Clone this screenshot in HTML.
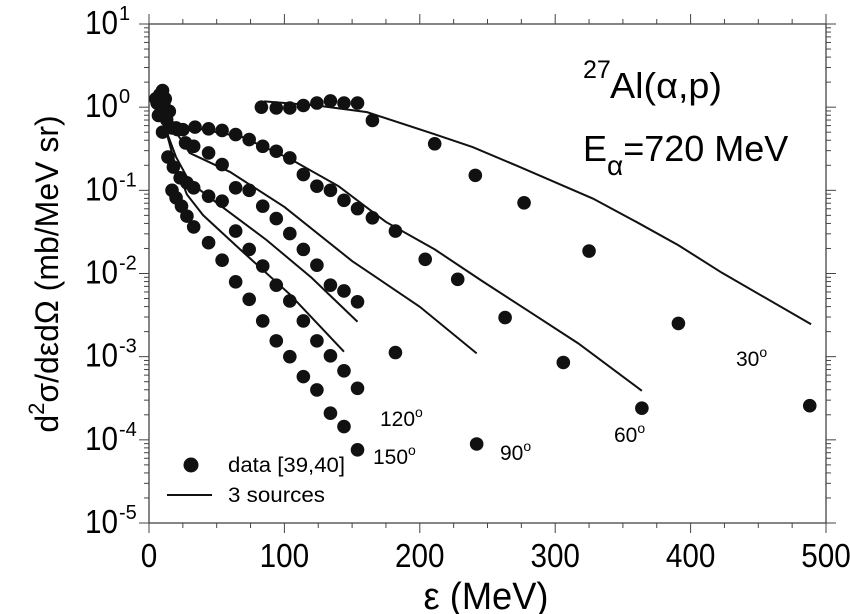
<!DOCTYPE html>
<html><head><meta charset="utf-8">
<style>
html,body{margin:0;padding:0;background:#fff;}
svg{display:block;font-family:"Liberation Sans",Arial,sans-serif;}
</style></head>
<body>
<svg id="chart" width="850" height="614" viewBox="0 0 850 614" xmlns="http://www.w3.org/2000/svg">
<g id="axes"></g>
<g id="marks"></g>
<g id="labels">
  <text x="583" y="78" font-size="25">27</text>
  <text x="610" y="98" font-size="36" textLength="112" lengthAdjust="spacingAndGlyphs">Al(α,p)</text>
  <text x="583" y="161" font-size="36">E<tspan font-size="28" dy="14">α</tspan><tspan dy="-14">=720 MeV</tspan></text>
  <text x="380" y="426" font-size="21">120<tspan font-size="14" dy="-9">o</tspan></text>
  <text x="373" y="464" font-size="21">150<tspan font-size="14" dy="-9">o</tspan></text>
  <text x="500" y="460" font-size="21">90<tspan font-size="14" dy="-9">o</tspan></text>
  <text x="614" y="442" font-size="21">60<tspan font-size="14" dy="-9">o</tspan></text>
  <text x="736" y="366" font-size="21">30<tspan font-size="14" dy="-9">o</tspan></text>
  <circle cx="191" cy="465" r="7.5" fill="#111"/>
  <text x="228" y="472" font-size="21" textLength="117" lengthAdjust="spacingAndGlyphs">data [39,40]</text>
  <line x1="167" y1="495" x2="212" y2="495" stroke="#111" stroke-width="2"/>
  <text x="228" y="502" font-size="21" textLength="97" lengthAdjust="spacingAndGlyphs">3 sources</text>
  <text x="486" y="609" font-size="38" text-anchor="middle" textLength="125" lengthAdjust="spacingAndGlyphs">ε (MeV)</text>
  <text transform="translate(58,274) rotate(-90)" font-size="32" text-anchor="middle">d<tspan font-size="22" dy="-14">2</tspan><tspan dy="14">σ/dεdΩ (mb/MeV sr)</tspan></text>
</g>
<script>
const xTicks=[0,100,200,300,400,500];
const yExps=[1,0,-1,-2,-3,-4,-5];
const d30x=[83,94,104,114,124,134,144,154,165,211,241,277,325,391,488];
const d30y=[0,-0.01,-0.01,0.02,0.05,0.075,0.05,0.05,-0.16,-0.44,-0.82,-1.15,-1.73,-2.60,-3.59];
const d60x=[8,10,12,15,20,25,34,44,54,64,74,84,94,104,114,124,134,144,154,165,182,204,228,263,306,364];
const d60y=[0.15,0.2,0.1,-0.05,-0.25,-0.27,-0.24,-0.26,-0.28,-0.33,-0.39,-0.47,-0.53,-0.61,-0.81,-0.95,-1.0,-1.12,-1.22,-1.33,-1.49,-1.83,-2.07,-2.53,-3.07,-3.62];
const d90x=[6,9,13,17,21,27,33,44,54,64,74,84,94,104,114,124,134,144,154,182,242];
const d90y=[0.05,-0.05,-0.15,-0.25,-0.27,-0.43,-0.47,-0.55,-0.69,-0.97,-1.0,-1.19,-1.34,-1.52,-1.71,-1.90,-2.14,-2.21,-2.34,-2.95,-4.05];
const d120x=[7,10,14,18,23,28,33,44,54,64,74,84,94,104,114,124,134,144,154];
const d120y=[-0.1,-0.3,-0.6,-0.72,-0.85,-0.91,-0.97,-1.07,-1.13,-1.49,-1.71,-1.91,-2.14,-2.33,-2.57,-2.81,-2.99,-3.17,-3.38];
const d150x=[5,8,11,17,20,24,28,33,44,54,64,74,84,94,104,114,124,134,144,154];
const d150y=[0.1,0.15,0.05,-1.0,-1.09,-1.19,-1.31,-1.44,-1.63,-1.84,-2.10,-2.31,-2.57,-2.81,-3.0,-3.24,-3.40,-3.68,-3.84,-4.12];
const l30x=[85,124,161,210,239,274,328,360,391,423,489];
const l30y=[0.07,0.02,-0.06,-0.32,-0.48,-0.72,-1.10,-1.38,-1.66,-1.99,-2.61];
const l60x=[10,18,34,69,104,140,175,211,246,282,317,364];
const l60y=[0.1,-0.29,-0.25,-0.36,-0.62,-0.95,-1.38,-1.71,-2.09,-2.47,-2.84,-3.41];
const l90x=[10,16,30,60,100,150,200,242];
const l90y=[0.05,-0.2,-0.55,-0.78,-1.2,-1.85,-2.4,-2.96];
const l120x=[10,12,20,30,50,87,120,154];
const l120y=[0,-0.25,-0.6,-0.9,-1.15,-1.6,-2.05,-2.58];
const l150x=[10,12,19,28,40,70,104,144];
const l150y=[0,-0.25,-0.67,-1.05,-1.3,-1.75,-2.25,-2.94];
const NS="http://www.w3.org/2000/svg";
const X0=149,X1=826,Y0=24,Y1=523;
const sx=v=>X0+(v/500)*(X1-X0);
const sy=l=>Y0+(1-l)*(Y1-Y0)/6;
function mk(tag,attrs,parent){const e=document.createElementNS(NS,tag);for(const k in attrs)e.setAttribute(k,attrs[k]);parent.appendChild(e);return e;}
const axes=document.getElementById('axes');
const frame=mk('rect',{x:X0,y:Y0,width:X1-X0,height:Y1-Y0,fill:'none',stroke:'#444','stroke-width':1.3},axes);


for(let v=0;v<=500;v+=25){const major=v%100===0;const len=major?10:5;
  mk('line',{x1:sx(v),x2:sx(v),y1:Y1,y2:Y1+len,stroke:'#444'},axes);
  mk('line',{x1:sx(v),x2:sx(v),y1:Y0,y2:Y0-len,stroke:'#444'},axes);}
xTicks.forEach(v=>{const s=String(v);const t=mk('text',{x:sx(v),y:567,'font-size':33,'text-anchor':'middle',textLength:s.length*16.5,lengthAdjust:'spacingAndGlyphs'},axes);t.textContent=s;
  
  });
yExps.forEach(e=>{const y=sy(e);
  mk('line',{x1:X0,x2:X0-10,y1:y,y2:y,stroke:'#444'},axes);
  mk('line',{x1:X1,x2:X1+10,y1:y,y2:y,stroke:'#444'},axes);
  if(e>-5)for(let m=2;m<=9;m++){const yy=sy(e-1+Math.log10(m));
    mk('line',{x1:X0,x2:X0-5,y1:yy,y2:yy,stroke:'#444'},axes);
    mk('line',{x1:X1,x2:X1+5,y1:yy,y2:yy,stroke:'#444'},axes);}
  const t=mk('text',{x:85,y:y+10,'font-size':33,textLength:33,lengthAdjust:'spacingAndGlyphs'},axes);
  t.textContent='10';
  
  
  const s=mk('text',{x:119,y:y-4,'font-size':20},axes);s.textContent=String(e);
  
  });
const marks=document.getElementById('marks');
const series=[['30deg',d30x,d30y,l30x,l30y],['60deg',d60x,d60y,l60x,l60y],['90deg',d90x,d90y,l90x,l90y],['120deg',d120x,d120y,l120x,l120y],['150deg',d150x,d150y,l150x,l150y]];
series.forEach(s=>{
  const p=mk('polyline',{points:s[3].map((v,i)=>sx(v)+','+sy(s[4][i])).join(' '),fill:'none',stroke:'#111','stroke-width':2},marks);
  
  
  s[1].forEach((v,i)=>{const c=mk('circle',{cx:sx(v),cy:sy(s[2][i]),r:6.8,fill:'#111'},marks);
    
    });
});
</script>
</svg>
</body></html>
